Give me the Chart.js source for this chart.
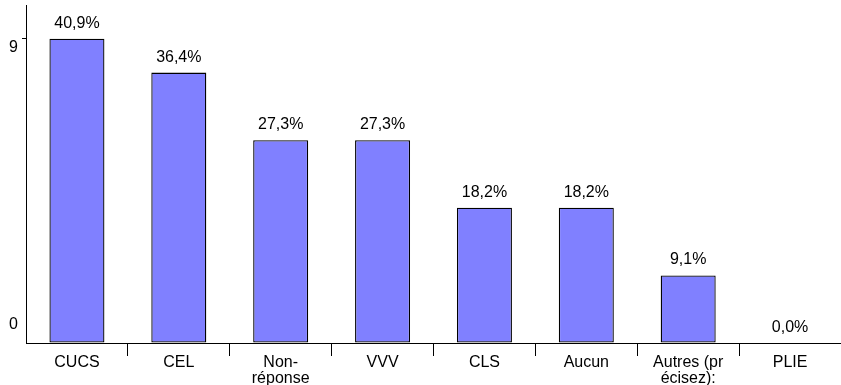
<!DOCTYPE html>
<html>
<head>
<meta charset="utf-8">
<script src="https://cdn.jsdelivr.net/npm/chart.js@4"></script>
<style>
  body { margin: 0; background: #fff; }
  #wrap { width: 841px; height: 385px; }
</style>
</head>
<body>
<div id="wrap"><canvas id="chart"></canvas></div>
<script>
const categories = ["CUCS", "CEL", ["Non-", "réponse"], "VVV", "CLS", "Aucun", ["Autres (pr", "écisez):"], "PLIE"];
const counts = [9, 8, 6, 6, 4, 4, 2, 0];
const respondents = 22;
const yTicks = [0, 9];
const yMax = 10;

const FONT = { family: "Arial, 'Liberation Sans', sans-serif", size: 16 };

const pct = (v) => (v / respondents * 100).toFixed(1).replace(".", ",") + "%";

// percentage above each bar
const valueLabels = {
  id: "valueLabels",
  afterDatasetsDraw(chart) {
    const ctx = chart.ctx;
    const meta = chart.getDatasetMeta(0);
    ctx.save();
    ctx.font = FONT.size + "px " + FONT.family;
    ctx.fillStyle = "#000";
    ctx.textAlign = "center";
    ctx.textBaseline = "alphabetic";
    meta.data.forEach((bar, i) => {
      ctx.fillText(pct(counts[i]), bar.x, bar.y - 11);
    });
    ctx.restore();
  }
};

// y tick labels, nudged toward the inside of the axis
const yLabels = {
  id: "yLabels",
  afterDraw(chart) {
    const ctx = chart.ctx;
    const scale = chart.scales.y;
    ctx.save();
    ctx.font = FONT.size + "px " + FONT.family;
    ctx.fillStyle = "#000";
    ctx.textAlign = "right";
    ctx.textBaseline = "middle";
    yTicks.forEach((v) => {
      const nudge = v === 0 ? -18 : 9;
      ctx.fillText(String(v), scale.right - 8, scale.getPixelForValue(v) + nudge);
    });
    ctx.restore();
  }
};

new Chart(document.getElementById("chart"), {
  type: "bar",
  data: {
    labels: categories,
    datasets: [{
      data: counts,
      backgroundColor: "#8080ff",
      borderColor: "#000",
      borderWidth: 1.3,
      borderSkipped: false,
      categoryPercentage: 1,
      barPercentage: 0.54
    }]
  },
  options: {
    responsive: true,
    maintainAspectRatio: false,
    animation: false,
    layout: { padding: { top: 5, left: 0, right: 0, bottom: 0 } },
    plugins: {
      legend: { display: false },
      tooltip: { enabled: false }
    },
    scales: {
      x: {
        offset: true,
        grid: {
          offset: true,
          drawOnChartArea: false,
          tickLength: 13,
          color: (c) => (c.index === 0 ? "rgba(0,0,0,0)" : "#000")
        },
        border: { color: "#000", width: 1 },
        ticks: {
          color: "#000",
          font: { ...FONT, lineHeight: 1.0 },
          padding: -1,
          maxRotation: 0,
          autoSkip: false
        },
        afterFit(scale) { scale.height = 42; }
      },
      y: {
        min: 0,
        max: yMax,
        afterBuildTicks(scale) {
          scale.ticks = yTicks.map((v) => ({ value: v }));
        },
        grid: {
          drawOnChartArea: false,
          tickLength: 4,
          color: (c) => (c.tick && c.tick.value === 0 ? "rgba(0,0,0,0)" : "#000")
        },
        border: { color: "#000", width: 1 },
        ticks: { display: false },
        afterFit(scale) { scale.width = 26; }
      }
    }
  },
  plugins: [valueLabels, yLabels]
});
</script>
</body>
</html>
